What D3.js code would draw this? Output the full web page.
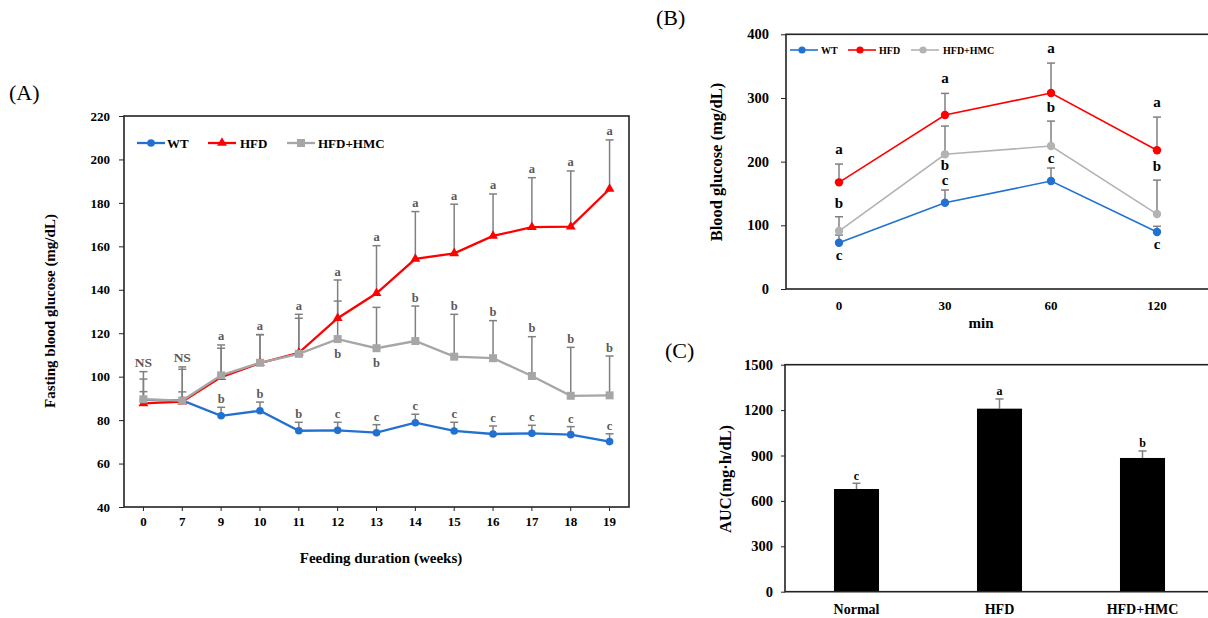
<!DOCTYPE html>
<html>
<head>
<meta charset="utf-8">
<script src="https://cdn.jsdelivr.net/npm/d3@7"></script>
<style>
  body { margin: 0; background: #fff; }
  text { font-family: "Liberation Serif", "Times New Roman", serif; }
</style>
</head>
<body>
<div id="my_dataviz"></div>
<script>
// ---- panel A data : fasting glucose over weeks
var weeks = ["0", "7", "9", "10", "11", "12", "13", "14", "15", "16", "17", "18", "19"]
var wtA = [89.3, 89.1, 82.0, 84.3, 75.1, 75.3, 74.2, 78.8, 75.0, 73.6, 73.9, 73.3, 70.1]
var wtAErr = [3.8, 3.9, 3.9, 4.0, 3.9, 3.7, 3.7, 3.9, 4.0, 3.7, 3.7, 3.7, 3.6]
var hfdA = [87.7, 88.5, 99.8, 106.2, 111.0, 126.9, 138.4, 154.2, 156.8, 164.8, 168.8, 169.1, 186.4]
var hfdAErr = [11.2, 16.0, 13.3, 13.1, 17.7, 17.6, 21.9, 21.8, 22.6, 19.3, 22.8, 25.6, 22.6]
var hmcA = [89.6, 89.0, 100.6, 106.4, 110.5, 117.3, 113.1, 116.4, 109.2, 108.5, 100.3, 91.2, 91.4]
var hmcAErr = [12.7, 14.4, 14.0, 13.0, 16.4, 17.5, 18.8, 16.1, 19.5, 17.3, 18.1, 22.3, 18.1]
var wtALetters = ["", "", "b", "b", "b", "c", "c", "c", "c", "c", "c", "c", "c"]
var hfdALetters = ["NS", "NS", "a", "a", "a", "a", "a", "a", "a", "a", "a", "a", "a"]
var hmcALetters = ["", "", "", "", "", "b", "b", "b", "b", "b", "b", "b", "b"]
var hmcALetterBelow = ["12", "13"]
var ticksA = [40, 60, 80, 100, 120, 140, 160, 180, 200, 220]

// ---- panel B data : glucose tolerance
var minutes = ["0", "30", "60", "120"]
var wtB = [72.7, 135.5, 169.5, 89.5]
var wtBErr = [12, 19.9, 20.5, 9]
var hfdB = [167.5, 273.2, 307.7, 218.0]
var hfdBErr = [28.7, 34.0, 47.1, 52.0]
var hmcB = [91.0, 211.5, 224.5, 117.7]
var hmcBErr = [22.5, 44.4, 39.2, 53.3]
var ticksB = [0, 100, 200, 300, 400]

// ---- panel C data : AUC
var groups = ["Normal", "HFD", "HFD+HMC"]
var auc = [678.6, 1209.5, 883.7]
var aucErr = [37.9, 64.1, 46.3]
var aucLetters = ["c", "a", "b"]
var ticksC = [0, 300, 600, 900, 1200, 1500]

var blue = "#2271d1", red = "#ff0000", grey = "#a6a6a6", errCol = "#808080"

var width = 1208
var height = 618

var svg = d3.select("#my_dataviz")
  .append("svg")
    .attr("width", width)
    .attr("height", height)

svg.append("rect").attr("width", width).attr("height", height).attr("fill", "#fff")

// =================== (A) ===================
var xA = d3.scaleBand().domain(weeks).range([124, 629])
var yA = d3.scaleLinear().domain([40, 220]).range([507, 116])
var cxA = function(w){ return xA(w) + xA.bandwidth() / 2 }

var gA = svg.append("g")

gA.append("g")
  .attr("transform", "translate(124,0)")
  .call(d3.axisLeft(yA).tickValues(ticksA).tickSize(5).tickPadding(9))
  .call(function(g){ g.select(".domain").remove() })
  .call(function(g){ g.selectAll("text").attr("font-size", 13).attr("font-weight", "bold").attr("fill", "#000") })
  .call(function(g){ g.selectAll("line").attr("stroke", "#222") })

gA.append("g")
  .attr("transform", "translate(0,507)")
  .call(d3.axisBottom(xA).tickSize(4).tickPadding(6))
  .call(function(g){ g.select(".domain").remove() })
  .call(function(g){ g.selectAll("text").attr("font-size", 13).attr("font-weight", "bold").attr("fill", "#000") })
  .call(function(g){ g.selectAll("line").attr("stroke", "#222") })

gA.append("rect")
  .attr("x", 124).attr("y", 116).attr("width", 505).attr("height", 391)
  .attr("fill", "none").attr("stroke", "#222").attr("stroke-width", 1.6)

function seriesA(vals, errs) {
  return weeks.map(function(w, i){ return { w: w, v: vals[i], e: errs[i] } })
}
var setsA = [
  { name: "WT", color: blue, shape: "circle", data: seriesA(wtA, wtAErr) },
  { name: "HFD", color: red, shape: "triangle", data: seriesA(hfdA, hfdAErr) },
  { name: "HFD+HMC", color: grey, shape: "square", data: seriesA(hmcA, hmcAErr) }
]

// error bars (upper only)
setsA.forEach(function(s){
  var eb = gA.append("g").selectAll("g").data(s.data).enter().append("g")
  eb.append("line")
    .attr("x1", function(d){ return cxA(d.w) }).attr("x2", function(d){ return cxA(d.w) })
    .attr("y1", function(d){ return yA(d.v) }).attr("y2", function(d){ return yA(d.v + d.e) })
    .attr("stroke", errCol).attr("stroke-width", 1.5)
  eb.append("line")
    .attr("x1", function(d){ return cxA(d.w) - 4 }).attr("x2", function(d){ return cxA(d.w) + 4 })
    .attr("y1", function(d){ return yA(d.v + d.e) }).attr("y2", function(d){ return yA(d.v + d.e) })
    .attr("stroke", errCol).attr("stroke-width", 1.5)
})

var symA = {
  circle: d3.symbol(d3.symbolCircle, 46),
  triangle: d3.symbol(d3.symbolTriangle, 42),
  square: d3.symbol(d3.symbolSquare, 64)
}

var lineA = d3.line().x(function(d){ return cxA(d.w) }).y(function(d){ return yA(d.v) })
setsA.forEach(function(s){
  gA.append("path").datum(s.data)
    .attr("d", lineA).attr("fill", "none").attr("stroke", s.color).attr("stroke-width", 2.3)
  gA.append("g").selectAll("path").data(s.data).enter().append("path")
    .attr("d", symA[s.shape])
    .attr("transform", function(d){ return "translate(" + cxA(d.w) + "," + yA(d.v) + ")" })
    .attr("fill", s.color)
})

// letters
var letCol = "#595959"
weeks.forEach(function(w, i){
  var x = cxA(w)
  if (wtALetters[i]) {
    gA.append("text").attr("x", x).attr("y", yA(wtA[i] + wtAErr[i]) - 4)
      .attr("text-anchor", "middle").attr("font-size", 12.5).attr("font-weight", "bold").attr("fill", letCol)
      .text(wtALetters[i])
  }
  var topCap = i < 5 ? Math.max(hfdA[i] + hfdAErr[i], hmcA[i] + hmcAErr[i]) : hfdA[i] + hfdAErr[i]
  gA.append("text").attr("x", x).attr("y", yA(topCap) - 4.5)
    .attr("text-anchor", "middle").attr("font-size", hfdALetters[i] === "NS" ? 13.5 : 12.5)
    .attr("font-weight", "bold").attr("fill", letCol)
    .text(hfdALetters[i])
  if (hmcALetters[i]) {
    var below = hmcALetterBelow.indexOf(w) >= 0
    gA.append("text").attr("x", x)
      .attr("y", below ? yA(hmcA[i]) + 19 : yA(hmcA[i] + hmcAErr[i]) - 4.5)
      .attr("text-anchor", "middle").attr("font-size", 12.5).attr("font-weight", "bold").attr("fill", letCol)
      .text(hmcALetters[i])
  }
})

// legend A
var legA = [{ x: 137, tx: 167 }, { x: 208, tx: 240 }, { x: 287, tx: 318 }]
setsA.forEach(function(s, i){
  var g = gA.append("g")
  g.append("line").attr("x1", legA[i].x).attr("x2", legA[i].x + 28).attr("y1", 143).attr("y2", 143)
    .attr("stroke", s.color).attr("stroke-width", 2.3)
  g.append("path").attr("d", symA[s.shape]).attr("transform", "translate(" + (legA[i].x + 14) + ",143)").attr("fill", s.color)
  g.append("text").attr("x", legA[i].tx).attr("y", 147.5).attr("font-size", 13).attr("font-weight", "bold").text(s.name)
})

gA.append("text").attr("x", 381).attr("y", 563).attr("text-anchor", "middle")
  .attr("font-size", 15).attr("font-weight", "bold").text("Feeding duration (weeks)")
gA.append("text").attr("transform", "translate(50,311) rotate(-90)").attr("dy", "0.35em")
  .attr("text-anchor", "middle").attr("font-size", 15).attr("font-weight", "bold").text("Fasting blood glucose (mg/dL)")
gA.append("text").attr("x", 9).attr("y", 100).attr("font-size", 22).text("(A)")

// =================== (B) ===================
var xB = d3.scaleBand().domain(minutes).range([786, 1210])
var yB = d3.scaleLinear().domain([0, 400]).range([289, 34.3])
var cxB = function(m){ return xB(m) + xB.bandwidth() / 2 }
var gB = svg.append("g")

gB.append("g")
  .attr("transform", "translate(786,0)")
  .call(d3.axisLeft(yB).tickValues(ticksB).tickSize(5).tickPadding(12))
  .call(function(g){ g.select(".domain").remove() })
  .call(function(g){ g.selectAll("text").attr("font-size", 14.5).attr("font-weight", "bold").attr("fill", "#000") })
  .call(function(g){ g.selectAll("line").attr("stroke", "#222") })

gB.append("g")
  .attr("transform", "translate(0,289)")
  .call(d3.axisBottom(xB).tickSize(0).tickPadding(12))
  .call(function(g){ g.select(".domain").remove() })
  .call(function(g){ g.selectAll("text").attr("font-size", 13).attr("font-weight", "bold").attr("fill", "#000") })

gB.append("rect")
  .attr("x", 786).attr("y", 34.3).attr("width", 424).attr("height", 254.7)
  .attr("fill", "none").attr("stroke", "#222").attr("stroke-width", 1.6)

function seriesB(vals, errs) {
  return minutes.map(function(m, i){ return { m: m, v: vals[i], e: errs[i] } })
}
var setsB = [
  { name: "WT", color: blue, data: seriesB(wtB, wtBErr) },
  { name: "HFD", color: red, data: seriesB(hfdB, hfdBErr) },
  { name: "HFD+HMC", color: "#b3b3b3", data: seriesB(hmcB, hmcBErr) }
]
setsB.forEach(function(s){
  var eb = gB.append("g").selectAll("g").data(s.data).enter().append("g")
  eb.append("line")
    .attr("x1", function(d){ return cxB(d.m) }).attr("x2", function(d){ return cxB(d.m) })
    .attr("y1", function(d){ return yB(d.v) }).attr("y2", function(d){ return yB(d.v + d.e) })
    .attr("stroke", errCol).attr("stroke-width", 1.5)
  eb.append("line")
    .attr("x1", function(d){ return cxB(d.m) - 4 }).attr("x2", function(d){ return cxB(d.m) + 4 })
    .attr("y1", function(d){ return yB(d.v + d.e) }).attr("y2", function(d){ return yB(d.v + d.e) })
    .attr("stroke", errCol).attr("stroke-width", 1.5)
})
var lineB = d3.line().x(function(d){ return cxB(d.m) }).y(function(d){ return yB(d.v) })
setsB.forEach(function(s){
  gB.append("path").datum(s.data)
    .attr("d", lineB).attr("fill", "none").attr("stroke", s.color).attr("stroke-width", 1.6)
  gB.append("g").selectAll("circle").data(s.data).enter().append("circle")
    .attr("cx", function(d){ return cxB(d.m) }).attr("cy", function(d){ return yB(d.v) })
    .attr("r", 4.2).attr("fill", s.color)
})

// letters B
var bLetter = function(x, y, t) {
  gB.append("text").attr("x", x).attr("y", y).attr("text-anchor", "middle")
    .attr("font-size", 15).attr("font-weight", "bold").text(t)
}
minutes.forEach(function(m, i){
  var x = cxB(m)
  bLetter(x, yB(hfdB[i] + hfdBErr[i]) - 10, "a")
  if (m === "30") bLetter(x, yB(hmcB[i]) + 16, "b")
  else bLetter(x, yB(hmcB[i] + hmcBErr[i]) - 9, "b")
  if (m === "0" || m === "120") bLetter(x, yB(wtB[i]) + 17, "c")
  else bLetter(x, yB(wtB[i] + wtBErr[i]) - 5, "c")
})

var legB = [{ x: 790, tx: 821 }, { x: 848, tx: 879 }, { x: 911, tx: 943 }]
setsB.forEach(function(s, i){
  gB.append("line").attr("x1", legB[i].x).attr("x2", legB[i].x + 28).attr("y1", 50).attr("y2", 50)
    .attr("stroke", s.color).attr("stroke-width", 1.6)
  gB.append("circle").attr("cx", legB[i].x + 12).attr("cy", 50).attr("r", 3.6).attr("fill", s.color)
  gB.append("text").attr("x", legB[i].tx).attr("y", 53.5).attr("font-size", 10).attr("font-weight", "bold").text(s.name)
})

gB.append("text").attr("x", 981).attr("y", 328).attr("text-anchor", "middle")
  .attr("font-size", 15).attr("font-weight", "bold").text("min")
gB.append("text").attr("transform", "translate(716,162) rotate(-90)").attr("dy", "0.35em")
  .attr("text-anchor", "middle").attr("font-size", 16.5).attr("font-weight", "bold").text("Blood glucose (mg/dL)")
gB.append("text").attr("x", 656).attr("y", 25).attr("font-size", 22).text("(B)")

// =================== (C) ===================
var xC = d3.scaleBand().domain(groups).range([785, 1214])
var yC = d3.scaleLinear().domain([0, 1500]).range([591.7, 364.7])
var gC = svg.append("g")

gC.append("g")
  .attr("transform", "translate(785,0)")
  .call(d3.axisLeft(yC).tickValues(ticksC).tickFormat(d3.format("d")).tickSize(4).tickPadding(8))
  .call(function(g){ g.select(".domain").remove() })
  .call(function(g){ g.selectAll("text").attr("font-size", 14.5).attr("font-weight", "bold").attr("fill", "#000") })
  .call(function(g){ g.selectAll("line").attr("stroke", "#222") })

gC.append("g")
  .attr("transform", "translate(0,591.7)")
  .call(d3.axisBottom(xC).tickSize(0).tickPadding(12))
  .call(function(g){ g.select(".domain").remove() })
  .call(function(g){ g.selectAll("text").attr("font-size", 14).attr("font-weight", "bold").attr("fill", "#000") })

var barW = xC.bandwidth() * 0.315
var cxC = function(g){ return xC(g) + xC.bandwidth() / 2 }
groups.forEach(function(g, i){
  var x = cxC(g)
  gC.append("line").attr("x1", x).attr("x2", x).attr("y1", yC(auc[i])).attr("y2", yC(auc[i] + aucErr[i]))
    .attr("stroke", errCol).attr("stroke-width", 1.5)
  gC.append("line").attr("x1", x - 4).attr("x2", x + 4).attr("y1", yC(auc[i] + aucErr[i])).attr("y2", yC(auc[i] + aucErr[i]))
    .attr("stroke", errCol).attr("stroke-width", 1.5)
  gC.append("text").attr("x", x).attr("y", yC(auc[i] + aucErr[i]) - 3.5).attr("text-anchor", "middle")
    .attr("font-size", 12).attr("font-weight", "bold").text(aucLetters[i])
})
gC.append("g").selectAll("rect").data(groups).enter().append("rect")
  .attr("x", function(d){ return cxC(d) - barW / 2 })
  .attr("y", function(d, i){ return yC(auc[i]) })
  .attr("width", barW)
  .attr("height", function(d, i){ return yC(0) - yC(auc[i]) })
  .attr("fill", "#000")

gC.append("rect")
  .attr("x", 785).attr("y", 364.7).attr("width", 429).attr("height", 227)
  .attr("fill", "none").attr("stroke", "#222").attr("stroke-width", 1.6)

gC.append("text").attr("transform", "translate(725,479) rotate(-90)").attr("dy", "0.35em")
  .attr("text-anchor", "middle").attr("font-size", 16.5).attr("font-weight", "bold").text("AUC(mg\u00b7h/dL)")
gC.append("text").attr("x", 665).attr("y", 358).attr("font-size", 22).text("(C)")
</script>
</body>
</html>
